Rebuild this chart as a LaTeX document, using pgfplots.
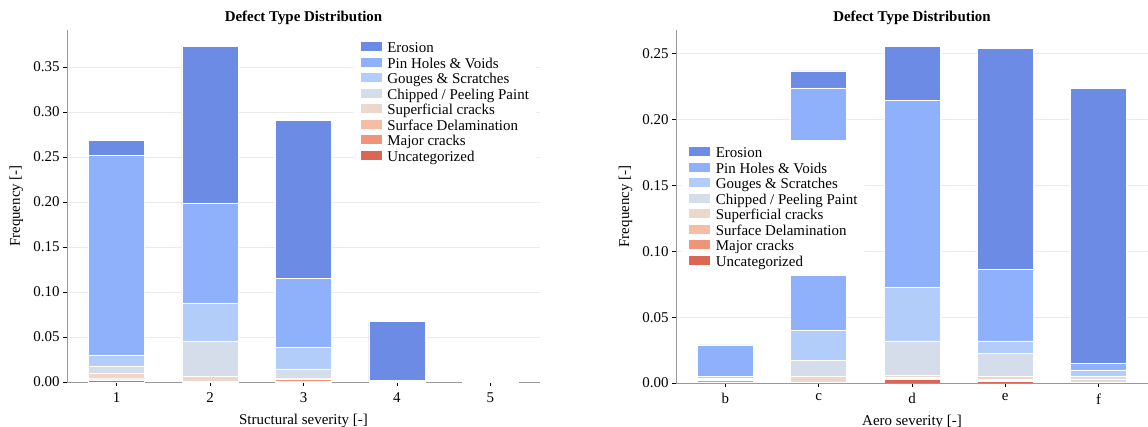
\documentclass[border=0pt]{standalone}
\usepackage{fontspec}
\setmainfont{Liberation Serif}
\usepackage{pgfplots}
\usepackage{pgfplotstable}
\pgfplotsset{compat=1.18}
\definecolor{cEro}{RGB}{108,139,229}
\definecolor{cPin}{RGB}{143,176,250}
\definecolor{cGou}{RGB}{179,205,251}
\definecolor{cChi}{RGB}{213,220,234}
\definecolor{cSup}{RGB}{236,215,205}
\definecolor{cDel}{RGB}{245,189,163}
\definecolor{cMaj}{RGB}{239,148,121}
\definecolor{cUnc}{RGB}{220,102,84}

\pgfplotstableread{
x unc maj del sup chi gou pin ero
1 0.0025 0.001 0.0005 0.006 0.008 0.012 0.222 0.016
2 0 0 0.001 0.005 0.039 0.043 0.111 0.174
3 0.001 0.002 0.0005 0.0005 0.0105 0.024 0.0765 0.176
4 0 0.001 0.001 0 0 0 0 0.065
5 0 0 0 0 0 0 0 0.0005
}\structdata

\pgfplotstableread{
x unc maj del sup chi gou pin ero
1 0.0005 0.0015 0 0.0008 0.001 0.001 0.0242 0
2 0 0 0.0005 0.005 0.0115 0.023 0.184 0.013
3 0.0025 0.001 0.001 0.0015 0.026 0.0405 0.142 0.041
4 0.001 0.001 0.001 0.0025 0.017 0.0095 0.054 0.168
5 0 0 0.0005 0.0025 0.0025 0.0045 0.005 0.2085
}\aerodata

\pgfplotsset{defstyle/.style={
  scale only axis, width=473bp, height=352bp,
  ybar stacked, bar width=0.6,
  axis x line*=bottom, axis y line*=left,
  axis line style={draw=black!40, line width=0.8pt},
  tick style={black, line width=0.8pt},
  tick align=outside, major tick length=4bp,
  ymajorgrids, grid style={black!8, line width=0.8pt},
  ymin=0, xmin=0.47, xmax=5.53,
  xtick={1,2,3,4,5},
  ticklabel style={font=\fontsize{15}{17}\selectfont},
  xticklabel style={yshift=-3bp},
  /pgf/number format/assume math mode=true,
  yticklabel style={/pgf/number format/fixed, /pgf/number format/fixed zerofill, /pgf/number format/precision=2},
  label style={font=\fontsize{15}{17}\selectfont},
  xlabel style={at={(axis description cs:0.5,-0.11)}, anchor=center},
  ylabel style={at={(axis description cs:-0.107,0.5)}, anchor=center},
  title style={font=\fontsize{15}{17}\selectfont\bfseries, at={(0.5,1)}, anchor=base, yshift=3bp},
  every axis plot/.append style={draw=white, line width=0.5pt},
  legend cell align=left,
  legend style={draw=none, fill=white, font=\fontsize{15}{17}\selectfont,
    inner sep=6bp, row sep=0bp, nodes={inner sep=1bp, text height=8.7bp, text depth=3bp}},
  reverse legend,
  legend image code/.code={\fill[##1] (0bp,-1.6bp) rectangle (22bp,8.4bp); \path (26bp,0bp);},
}}

\begin{document}
\begin{tikzpicture}
\useasboundingbox (0,0) rectangle (1148bp,427bp);
\begin{axis}[defstyle, at={(67bp,45bp)}, anchor=south west,
  ymax=0.391, ytick={0,0.05,0.10,0.15,0.20,0.25,0.30,0.35},
  title={Defect Type Distribution},
  xlabel={Structural severity [-]}, ylabel={Frequency [-]},
  legend style={at={(0.606,0.986)}, anchor=north west}]
\addplot[fill=cUnc] table[x=x,y=unc] {\structdata};
\addplot[fill=cMaj] table[x=x,y=maj] {\structdata};
\addplot[fill=cDel] table[x=x,y=del] {\structdata};
\addplot[fill=cSup] table[x=x,y=sup] {\structdata};
\addplot[fill=cChi] table[x=x,y=chi] {\structdata};
\addplot[fill=cGou] table[x=x,y=gou] {\structdata};
\addplot[fill=cPin] table[x=x,y=pin] {\structdata};
\addplot[fill=cEro] table[x=x,y=ero] {\structdata};
\legend{Uncategorized, Major cracks, Surface Delamination, Superficial cracks, Chipped / Peeling Paint, Gouges \& Scratches, Pin Holes \& Voids, Erosion}
\end{axis}
\begin{axis}[defstyle, at={(676bp,44bp)}, anchor=south west, width=472bp, height=353bp,
  ymax=0.268, ytick={0,0.05,0.10,0.15,0.20,0.25},
  xticklabels={b,c,d,e,f},
  title={Defect Type Distribution},
  xlabel={Aero severity [-]}, ylabel={Frequency [-]},
  legend style={at={(0.013,0.688)}, anchor=north west}]
\addplot[fill=cUnc] table[x=x,y=unc] {\aerodata};
\addplot[fill=cMaj] table[x=x,y=maj] {\aerodata};
\addplot[fill=cDel] table[x=x,y=del] {\aerodata};
\addplot[fill=cSup] table[x=x,y=sup] {\aerodata};
\addplot[fill=cChi] table[x=x,y=chi] {\aerodata};
\addplot[fill=cGou] table[x=x,y=gou] {\aerodata};
\addplot[fill=cPin] table[x=x,y=pin] {\aerodata};
\addplot[fill=cEro] table[x=x,y=ero] {\aerodata};
\legend{Uncategorized, Major cracks, Surface Delamination, Superficial cracks, Chipped / Peeling Paint, Gouges \& Scratches, Pin Holes \& Voids, Erosion}
\end{axis}
\end{tikzpicture}
\end{document}
